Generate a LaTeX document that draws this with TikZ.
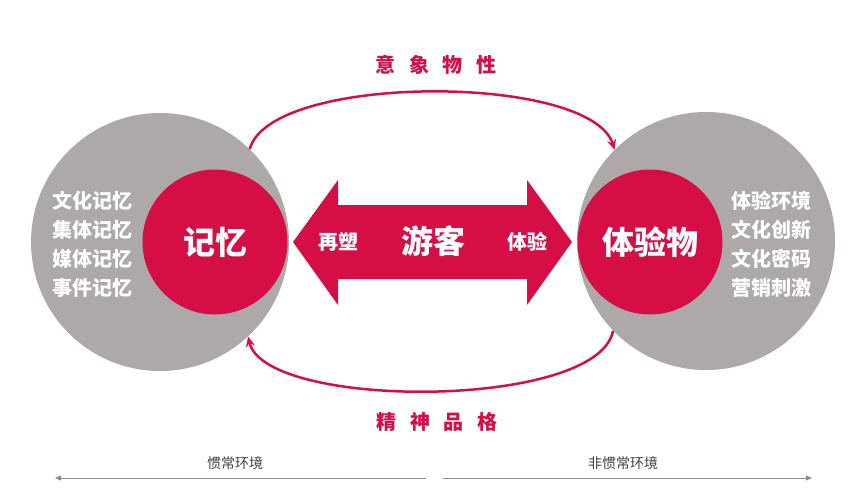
\documentclass[tikz,border=0pt]{standalone}
\usepackage{fontspec}
\newfontfamily\cjk{Noto Sans CJK SC}
\usetikzlibrary{arrows.meta,positioning}
\definecolor{memred}{HTML}{D50F45}
\definecolor{ringgray}{HTML}{ACA9A8}
\definecolor{axisgray}{HTML}{8C8C8C}
\definecolor{labelgray}{HTML}{404040}

\begin{document}
\begin{tikzpicture}[x=1pt,y=-1pt,
            ring/.style={circle,fill=ringgray,minimum size=258pt,inner sep=0pt},
            core/.style={circle,fill=memred,minimum size=145pt,inner sep=0pt,
                    text=white,font=\cjk\bfseries\fontsize{32}{36}\selectfont},
            items/.style={text=white,align=center,inner sep=0pt,
                    font=\cjk\bfseries\fontsize{20}{29}\selectfont},
            tag/.style={text=white,inner sep=0pt,font=\cjk\bfseries\fontsize{20}{24}\selectfont},
            theme/.style={text=memred,inner sep=0pt,
                    font=\cjk\bfseries\fontsize{20}{24}\selectfont\addfontfeature{LetterSpace=68}},
            loop/.style={draw=memred,line width=2.5pt,-{Stealth[length=10pt,width=9pt]}},
            axis/.style={draw=axisgray,line width=1pt,-{Triangle[length=6pt,width=5pt]}},
            envlabel/.style={text=labelgray,inner sep=0pt,font=\cjk\fontsize{14}{16}\selectfont}]

        \useasboundingbox (0,0) rectangle (865,499);

        % circles
        \node[ring] (lring) at (160,242) {};
        \node[ring] (rring) at (706,241) {};
        \node[core] (memory) at (215,242) {记忆};
        \node[core] (object) at (650,242) {体验物};

        \node[items] (llist) at (92,244) {文化记忆\\集体记忆\\媒体记忆\\事件记忆};
        \node[items] (rlist) at (771,244) {体验环境\\文化创新\\文化密码\\营销刺激};

        % double arrow
        \fill[memred] (293,242) -- (338,180) -- (338,205) -- (527,205) -- (527,180)
            -- (572,242) -- (527,305) -- (527,279) -- (338,279) -- (338,305) -- cycle;
        \node[text=white,inner sep=0pt,font=\cjk\bfseries\fontsize{32}{36}\selectfont]
            (guest) at (433,241) {游客};
        \node[tag] (reshape) at (338,242) {再塑};
        \node[tag] (feel) at (527,242) {体验};

        % loops
        \draw[loop] (lring.46) .. controls (270,73) and (590,73) .. (rring.135);
        \draw[loop] (rring.-136) .. controls (598,410) and (265,410) .. (lring.-47);
        \node[theme] (image) at (436,65) {意象物性};
        \node[theme] (spirit) at (437,422) {精神品格};

        % environments
        \coordinate (lend) at (55,478);
        \coordinate (lmid) at (426,478);
        \coordinate (rmid) at (443,478);
        \coordinate (rend) at (812,478);
        \draw[axis] (lmid) -- (lend);
        \draw[axis] (rmid) -- (rend);
        \node[envlabel] (usual) at (235,463) {惯常环境};
        \node[envlabel] (unusual) at (623,463) {非惯常环境};
    \end{tikzpicture}
\end{document}
